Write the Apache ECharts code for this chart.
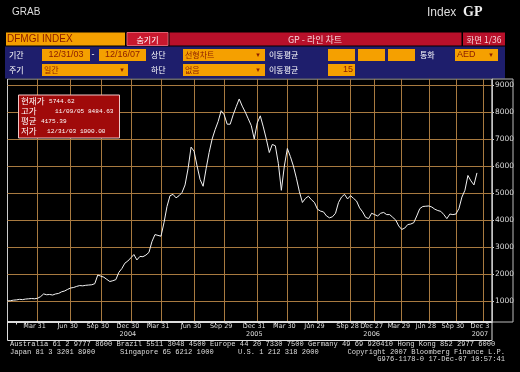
<!DOCTYPE html>
<html><head><meta charset="utf-8">
<script src="https://cdn.jsdelivr.net/npm/echarts@6/dist/echarts.min.js"></script>
<style>html,body{margin:0;padding:0;background:#000;}#c{width:520px;height:372px;}</style>
</head><body><div id="c"></div><script>
// sample dates (x categories)
const dates = [
'2003-12-31','2004-01-09','2004-01-18','2004-01-27','2004-02-05','2004-02-14','2004-02-23','2004-03-04','2004-03-13','2004-03-22','2004-03-31',
'2004-04-08','2004-04-16','2004-04-24','2004-05-03','2004-05-11','2004-05-19','2004-05-28','2004-06-05','2004-06-13','2004-06-22','2004-06-30',
'2004-07-09','2004-07-18','2004-07-28','2004-08-06','2004-08-15','2004-08-24','2004-09-02','2004-09-12','2004-09-21','2004-09-30',
'2004-10-09','2004-10-18','2004-10-27','2004-11-05','2004-11-14','2004-11-23','2004-12-03','2004-12-12','2004-12-21','2004-12-30',
'2005-01-08','2005-01-17','2005-01-26','2005-02-04','2005-02-13','2005-02-22','2005-03-04','2005-03-13','2005-03-22','2005-03-31',
'2005-04-08','2005-04-16','2005-04-24','2005-05-03','2005-05-11','2005-05-19','2005-05-28','2005-06-05','2005-06-13','2005-06-22','2005-06-30',
'2005-07-09','2005-07-18','2005-07-27','2005-08-05','2005-08-14','2005-08-23','2005-09-02','2005-09-11','2005-09-20','2005-09-29',
'2005-10-07','2005-10-16','2005-10-24','2005-11-02','2005-11-09','2005-11-19','2005-11-28','2005-12-06','2005-12-14','2005-12-23','2005-12-31',
'2006-01-09','2006-01-18','2006-01-27','2006-02-04','2006-02-13','2006-02-22','2006-03-03','2006-03-12','2006-03-21','2006-03-30',
'2006-04-08','2006-04-17','2006-04-26','2006-05-05','2006-05-14','2006-05-23','2006-06-02','2006-06-11','2006-06-20','2006-06-29',
'2006-07-07','2006-07-15','2006-07-24','2006-08-01','2006-08-09','2006-08-18','2006-08-26','2006-09-03','2006-09-12','2006-09-20','2006-09-28',
'2006-10-09','2006-10-20','2006-11-01','2006-11-12','2006-11-23','2006-12-05','2006-12-16','2006-12-27',
'2007-01-06','2007-01-16','2007-01-27','2007-02-06','2007-02-16','2007-02-26','2007-03-09','2007-03-19','2007-03-29',
'2007-04-07','2007-04-17','2007-04-27','2007-05-07','2007-05-17','2007-05-27','2007-06-08','2007-06-18','2007-06-28',
'2007-07-08','2007-07-19','2007-07-29','2007-08-09','2007-08-19','2007-08-30','2007-09-09','2007-09-20','2007-09-30',
'2007-10-11','2007-10-22','2007-11-02','2007-11-13','2007-11-24','2007-12-05','2007-12-16',
'2007-12-23','2007-12-31','2008-01-08','2008-01-16','2008-01-24'
];
// DFMGI index values
const values = [
1000,1010,1030,1040,1060,1050,1070,1080,1090,1080,1100,
1160,1260,1230,1240,1220,1260,1280,1340,1370,1430,1480,
1500,1540,1570,1560,1580,1590,1600,1640,1960,1920,
1880,1800,1720,1750,1790,2060,2200,2400,2480,2600,
2720,2520,2650,2640,2700,2800,3200,3460,3430,3400,
3900,4500,4900,4950,4820,4900,5020,5300,5900,6700,6550,
6000,5500,5250,5900,6500,7000,7350,7650,8050,7900,
7550,7550,7900,8200,8484.63,8220,8000,7750,7500,7000,7600,
7860,7450,7000,6500,6800,6750,6100,5100,6000,6650,
6350,6000,5550,5050,4650,4800,4880,4750,4650,4400,
4330,4300,4150,4080,4120,4250,4650,4850,4950,4780,4900,
4800,4700,4450,4300,4100,4050,4250,4200,
4150,4250,4280,4200,4200,4100,4000,3780,3650,
3700,3830,3850,3900,4150,4420,4500,4510,4520,
4480,4400,4350,4320,4200,4050,4220,4200,4220,
4420,4850,5100,5650,5450,5300,5744.62
];
const tickDates  = ['2004-03-31','2004-06-30','2004-09-30','2004-12-30','2005-03-31','2005-06-30','2005-09-29','2005-12-31','2006-03-30','2006-06-29','2006-09-28','2006-12-27','2007-03-29','2007-06-28','2007-09-30','2007-12-31'];
const tickLabels = ['Mar 31','Jun 30','Sep 30','Dec 30','Mar 31','Jun 30','Sep 29','Dec 31','Mar 30','Jun 29','Sep 28','Dec 27','Mar 29','Jun 28','Sep 30','Dec 3'];
const yearLabels = {'2004-12-30':'2004','2005-12-31':'2005','2006-12-27':'2006','2007-12-31':'2007'};
const monthTickDates = ['2004-01-27','2004-02-23','2004-05-28','2004-09-02','2004-11-23','2005-02-22','2005-05-28','2005-09-02','2005-11-28','2006-02-22','2006-06-02','2006-09-03','2006-11-23','2007-02-26','2007-05-27','2007-08-30','2007-11-24'];
const yTicks = [1000,2000,3000,4000,5000,6000,7000,8000,9000];

const KR = '"Noto Sans CJK KR"';
const ORANGE = '#f5a000', RED = '#b8102a', NAVY = '#1e1e6c', OTXT = '#8a1c00';
const g = [];
function R(x,y,w,h,fill,stroke){g.push({type:'rect',z:100,shape:{x:x,y:y,width:w,height:h},style:{fill:fill||'none',stroke:stroke||null,lineWidth:1},silent:true});}
function T(x,y,text,font,fill,align){g.push({type:'text',z:101,x:x,y:y,style:{text:text,font:font,fill:fill,align:align||'left',verticalAlign:'middle'},silent:true});}

// header
T(12,12.5,'GRAB','10px "Liberation Sans"','#ddd');
T(427,12.5,'Index','12px "Liberation Sans"','#ddd');
T(463,12.5,'GP','bold 14px "Liberation Serif"','#eee');
R(6,32.5,119,13,ORANGE);
T(7,39.5,'DFMGI INDEX','10px "Liberation Sans"',OTXT);
R(127,32.5,41,13,'#c8182e','#e06070');
T(147.5,39.5,'숨기기','8px '+KR,'#fff','center');
R(169.5,32.5,292,13,RED);
T(315,39.5,'GP - 라인 차트','9px '+KR,'#f4d4d8','center');
R(463,32.5,42,13,RED);
T(484,39.5,'화면 1/36','8.5px '+KR,'#f4d4d8','center');
R(5,46.5,500,32,NAVY);
// row 2
T(9,55,'기간','8px '+KR,'#fff');
R(42,49,48,12,ORANGE); T(66,55,'12/31/03','9px "Liberation Sans"',OTXT,'center');
T(93,55,'-','9px "Liberation Sans"','#fff','center');
R(99,49,47,12,ORANGE); T(122.5,55,'12/16/07','9px "Liberation Sans"',OTXT,'center');
T(151,55,'상단','8px '+KR,'#fff');
R(183,49,82,12,ORANGE); T(185,55,'선형차트','8px '+KR,OTXT); T(258,55,'▾','7px "DejaVu Sans"',OTXT,'center');
T(269,55,'이동평균','8px '+KR,'#fff');
R(328,49,27,12,ORANGE); R(358,49,27,12,ORANGE); R(388,49,27,12,ORANGE);
T(420,55,'통화','8px '+KR,'#fff');
R(455,49,43,12,ORANGE); T(457,55,'AED','9px "Liberation Sans"',OTXT); T(491,55,'▾','7px "DejaVu Sans"',OTXT,'center');
// row 3
T(9,70,'주기','8px '+KR,'#fff');
R(42,64,86,12,ORANGE); T(44,70,'일간','8px '+KR,OTXT); T(122,70,'▾','7px "DejaVu Sans"',OTXT,'center');
T(151,70,'하단','8px '+KR,'#fff');
R(183,64,82,12,ORANGE); T(185,70,'없음','8px '+KR,OTXT); T(258,70,'▾','7px "DejaVu Sans"',OTXT,'center');
T(269,70,'이동평균','8px '+KR,'#fff');
R(328,64,27,12,ORANGE); T(353,70,'15','9px "Liberation Sans"',OTXT,'right');

// info box
R(18.5,95,101,43,'#a00a0a','#f0c8c8');
const MONO = '6.1px "Liberation Mono"';
const KB = '8.5px '+KR;
T(21,100.5,'현재가',KB,'#fff'); T(49,101,'5744.62',MONO,'#fff');
T(21,110.5,'고가',KB,'#fff'); T(55,111,'11/09/05 8484.63',MONO,'#fff');
T(21,120.5,'평균',KB,'#fff'); T(41,121,'4175.39',MONO,'#fff');
T(21,130.5,'저가',KB,'#fff'); T(47,131,'12/31/03 1000.00',MONO,'#fff');

// label boxes
R(7.5,321.5,484.5,19,null,'#ddd');
R(492,79,21,243,null,'#bbb');

// footer
const FM = '7.1px "Liberation Mono"';
T(10,344.5,'Australia 61 2 9777 8600 Brazil 5511 3048 4500 Europe 44 20 7330 7500 Germany 49 69 920410 Hong Kong 852 2977 6000',FM,'#ddd');
T(10,352,'Japan 81 3 3201 8900',FM,'#ddd');
T(120,352,'Singapore 65 6212 1000',FM,'#ddd');
T(238,352,'U.S. 1 212 318 2000',FM,'#ddd');
T(505,352,'Copyright 2007 Bloomberg Finance L.P.',FM,'#ddd','right');
T(505,359.5,'G976-1178-0 17-Dec-07 10:57:41',FM,'#ddd','right');

const isTick = (i, v) => tickDates.indexOf(v) >= 0;
const isMonthTick = (i, v) => monthTickDates.indexOf(v) >= 0;
const GRID = '#a87a40';
const chart = echarts.init(document.getElementById('c'), null, {renderer:'canvas'});
chart.setOption({
  backgroundColor:'#000',
  animation:false,
  grid:{left:7.5,right:28,top:79,bottom:50,show:true,borderColor:'#ccc',borderWidth:1,backgroundColor:'#000'},
  xAxis:{type:'category',data:dates,boundaryGap:false,
    axisLine:{show:true,lineStyle:{color:'#ddd',width:1}},
    axisTick:{show:true,interval:isMonthTick,inside:false,length:2.5,lineStyle:{color:'#ddd',width:1}},
    axisLabel:{interval:isTick,margin:0,color:'#ddd',fontSize:6.5,fontFamily:'"DejaVu Sans"',lineHeight:8.5,padding:[0,6,0,0],
      formatter:function(v){const k=tickDates.indexOf(v); if(k<0) return ''; let s=tickLabels[k]; if(yearLabels[v]) s+='\n'+yearLabels[v]; return s;}},
    splitLine:{show:true,interval:isTick,lineStyle:{color:GRID,width:1}}
  },
  yAxis:{type:'value',position:'right',min:220,max:9225,
    axisLine:{show:true,lineStyle:{color:'#ccc'}},
    axisTick:{show:true,length:2,customValues:yTicks,lineStyle:{color:'#ccc'}},
    axisLabel:{customValues:yTicks,margin:3,color:'#ddd',fontSize:7.5,fontFamily:'"DejaVu Sans"',formatter:function(v){return String(v);}},
    splitLine:{show:true,lineStyle:{color:GRID,width:1}}
  },
  series:[{type:'line',data:values,showSymbol:false,symbol:'none',lineStyle:{color:'#f2f2f2',width:1},z:5}],
  graphic:g
});
</script></body></html>
